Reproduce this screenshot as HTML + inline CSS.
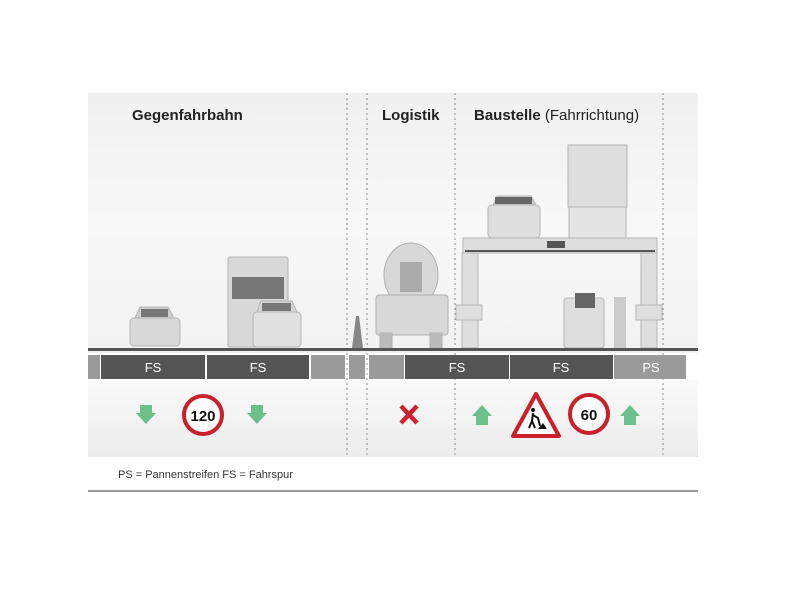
<!DOCTYPE html>
<html><head><meta charset="utf-8"><style>
html,body{margin:0;padding:0;background:#fff;}
svg{display:block;}
text{font-family:"Liberation Sans",Arial,sans-serif;}
</style></head><body>
<svg width="800" height="600" viewBox="0 0 800 600" xmlns="http://www.w3.org/2000/svg">
<defs>
<linearGradient id="bg" x1="0" y1="0" x2="0" y2="1">
<stop offset="0" stop-color="#f0f0f0"/><stop offset="0.5" stop-color="#f8f8f8"/><stop offset="1" stop-color="#f2f2f2"/>
</linearGradient>
<linearGradient id="bg2" x1="0" y1="0" x2="0" y2="1">
<stop offset="0" stop-color="#fafafa"/><stop offset="1" stop-color="#ececec"/>
</linearGradient>
</defs>
<rect x="88" y="93" width="610" height="260" fill="url(#bg)"/>
<rect x="88" y="380" width="610" height="77" fill="url(#bg2)"/>
<g stroke="#888" stroke-width="1" stroke-dasharray="2,3">
<line x1="347" y1="93" x2="347" y2="457"/>
<line x1="367" y1="93" x2="367" y2="457"/>
<line x1="455" y1="93" x2="455" y2="457"/>
<line x1="663" y1="93" x2="663" y2="457"/>
</g>
<text x="132" y="120" font-size="15" font-weight="bold" fill="#222">Gegenfahrbahn</text>
<text x="382" y="120" font-size="15" font-weight="bold" fill="#222">Logistik</text>
<text x="474" y="120" font-size="15" font-weight="bold" fill="#222">Baustelle <tspan font-weight="normal">(Fahrrichtung)</tspan></text>
<g fill="#d8d8d8" stroke="#b5b5b5">
<rect x="130" y="318" width="50" height="28" rx="4"/>
<path d="M135 318 L140 307 L168 307 L174 318Z" fill="#cfcfcf"/>
<rect x="228" y="257" width="60" height="90" rx="2"/>
<rect x="253" y="312" width="48" height="35" rx="4" fill="#e0e0e0"/>
<path d="M257 312 L261 301 L292 301 L297 312Z" fill="#d5d5d5"/>
</g>
<rect x="141" y="309" width="27" height="8" fill="#777"/>
<rect x="232" y="277" width="52" height="22" fill="#777"/>
<rect x="262" y="303" width="29" height="8" fill="#777"/>
<path d="M352 348 L356 316 L359 316 L363 348Z" fill="#888"/>
<g fill="#d8d8d8" stroke="#b0b0b0">
<ellipse cx="411" cy="275" rx="27" ry="32"/>
<rect x="376" y="295" width="72" height="40" rx="3"/>
<rect x="380" y="333" width="12" height="15" fill="#bbb"/>
<rect x="430" y="333" width="12" height="15" fill="#bbb"/>
</g>
<rect x="400" y="262" width="22" height="30" fill="#aaa"/>
<g fill="#dedede" stroke="#b5b5b5">
<rect x="463" y="238" width="194" height="15"/>
<rect x="462" y="253" width="16" height="95"/>
<rect x="641" y="253" width="16" height="95"/>
<rect x="456" y="305" width="26" height="15"/>
<rect x="636" y="305" width="26" height="15"/>
<rect x="488" y="205" width="52" height="33" rx="4"/>
<path d="M493 205 L497 196 L531 196 L536 205Z" fill="#ccc"/>
<rect x="568" y="145" width="59" height="62"/>
<rect x="569" y="207" width="57" height="31" fill="#e5e5e5"/>
<rect x="564" y="298" width="40" height="50" rx="3"/>
</g>
<rect x="495" y="197" width="37" height="7" fill="#666"/>
<rect x="547" y="241" width="18" height="7" fill="#555"/>
<rect x="575" y="293" width="20" height="15" fill="#666"/>
<rect x="465" y="250" width="190" height="2" fill="#555"/>
<rect x="614" y="297" width="12" height="51" fill="#ccc"/>
<circle cx="620" cy="302" r="5" fill="#ccc"/>
<rect x="88" y="348" width="610" height="3" fill="#555"/>
<g>
<rect x="88" y="355" width="12" height="24" fill="#9a9a9a"/>
<rect x="101" y="355" width="104" height="24" fill="#555"/>
<rect x="207" y="355" width="102" height="24" fill="#555"/>
<rect x="311" y="355" width="34" height="24" fill="#9a9a9a"/>
<rect x="349" y="355" width="16" height="24" fill="#9a9a9a"/>
<rect x="369" y="355" width="35" height="24" fill="#9a9a9a"/>
<rect x="405" y="355" width="104" height="24" fill="#555"/>
<rect x="510" y="355" width="103" height="24" fill="#555"/>
<rect x="614" y="355" width="72" height="24" fill="#9a9a9a"/>
</g>
<g font-size="13" fill="#fff" text-anchor="middle">
<text x="153" y="372">FS</text><text x="258" y="372">FS</text>
<text x="457" y="372">FS</text><text x="561" y="372">FS</text>
<text x="651" y="372">PS</text>
</g>
<g fill="#6cc08c">
<path d="M140 405 L152 405 L152 413 L156 413 L146 424 L136 413 L140 413Z"/>
<path d="M251 405 L263 405 L263 413 L267 413 L257 424 L247 413 L251 413Z"/>
<path d="M476 425 L488 425 L488 416 L492 416 L482 405 L472 416 L476 416Z"/>
<path d="M624 425 L636 425 L636 416 L640 416 L630 405 L620 416 L624 416Z"/>
</g>
<g stroke="#d02030" stroke-width="4.5">
<line x1="401" y1="406" x2="417" y2="423"/><line x1="417" y1="406" x2="401" y2="423"/>
</g>
<circle cx="203" cy="415" r="19" fill="#fff" stroke="#c8202c" stroke-width="4"/>
<text x="203" y="421" font-size="15" font-weight="bold" text-anchor="middle" fill="#111">120</text>
<path d="M536 394 L559 436 L513 436Z" fill="#fff" stroke="#c8202c" stroke-width="4" stroke-linejoin="round"/>
<circle cx="533" cy="410" r="2" fill="#111"/>
<path d="M533 413 L532 421 L529 428 M532 421 L535 428 M533 415 L538 418 L540 426" stroke="#111" stroke-width="2" fill="none"/>
<path d="M538 429 L547 429 L543 423Z" fill="#111"/>
<circle cx="589" cy="414" r="19" fill="#fff" stroke="#c8202c" stroke-width="4"/>
<text x="589" y="420" font-size="15" font-weight="bold" text-anchor="middle" fill="#111">60</text>
<text x="118" y="478" font-size="11" fill="#333">PS = Pannenstreifen FS = Fahrspur</text>
<rect x="88" y="490" width="610" height="2" fill="#999"/>
</svg>
</body></html>
